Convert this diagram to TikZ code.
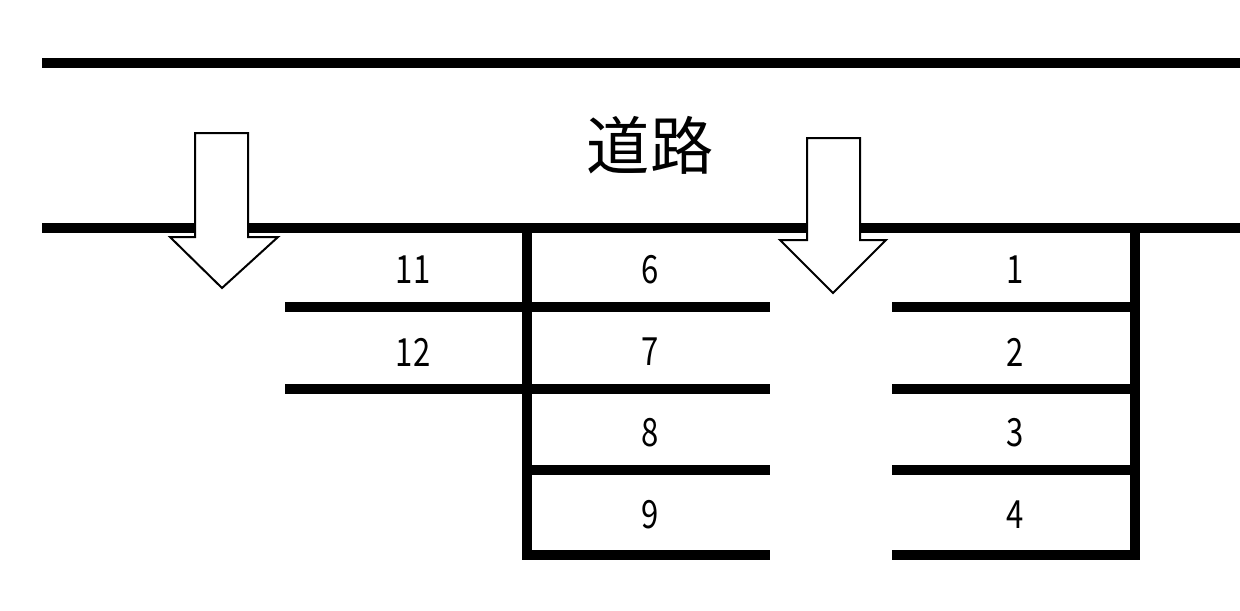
\documentclass[tikz,border=0pt]{standalone}
\usepackage{fontspec}
\newfontfamily\cjk{Noto Sans CJK JP}
\tikzset{
  wall/.style={draw=black, line width=0.2cm},
  slot/.style={font=\cjk\fontsize{26}{26}\selectfont, scale=0.85, xscale=0.8},
  inarrow/.style={draw=black, fill=white, line width=0.04cm},
}
\begin{document}
\begin{tikzpicture}[x=0.02cm, y=-0.02cm]
	\useasboundingbox (0,0) rectangle (1240,610);
	% road
	\draw[wall] (42,63) -- (1240,63);
	\draw[wall] (42,228) -- (1240,228);
	\node[font=\cjk\fontsize{36}{36}\selectfont] (road) at (650,145) {道路};
	% parking rows
	\draw[wall] (527,228) -- (527,555) -- (770,555);
	\draw[wall] (1135,228) -- (1135,555) -- (892,555);
	\foreach \y in {307,389} {
		\draw[wall] (285,\y) -- (770,\y);
	}
	\foreach \y in {307,389,470} {
		\draw[wall] (527,\y) -- (770,\y);
		\draw[wall] (892,\y) -- (1135,\y);
	}
	% numbers
	\node[slot] (s11) at (413,270) {11};
	\node[slot] (s12) at (413,352) {12};
	\node[slot] (s6) at (650,270) {6};
	\node[slot] (s7) at (650,352) {7};
	\node[slot] (s8) at (650,433) {8};
	\node[slot] (s9) at (650,515) {9};
	\node[slot] (s1) at (1015,270) {1};
	\node[slot] (s2) at (1015,352) {2};
	\node[slot] (s3) at (1015,433) {3};
	\node[slot] (s4) at (1015,515) {4};
	% entrance arrows
	\draw[inarrow] (195,133) -- (248,133) -- (248,237) -- (278,237) -- (222,288)
		-- (170,237) -- (195,237) -- cycle;
	\draw[inarrow] (807,138) -- (860,138) -- (860,240) -- (886,240) -- (833,293)
		-- (780,240) -- (807,240) -- cycle;
\end{tikzpicture}
\end{document}
